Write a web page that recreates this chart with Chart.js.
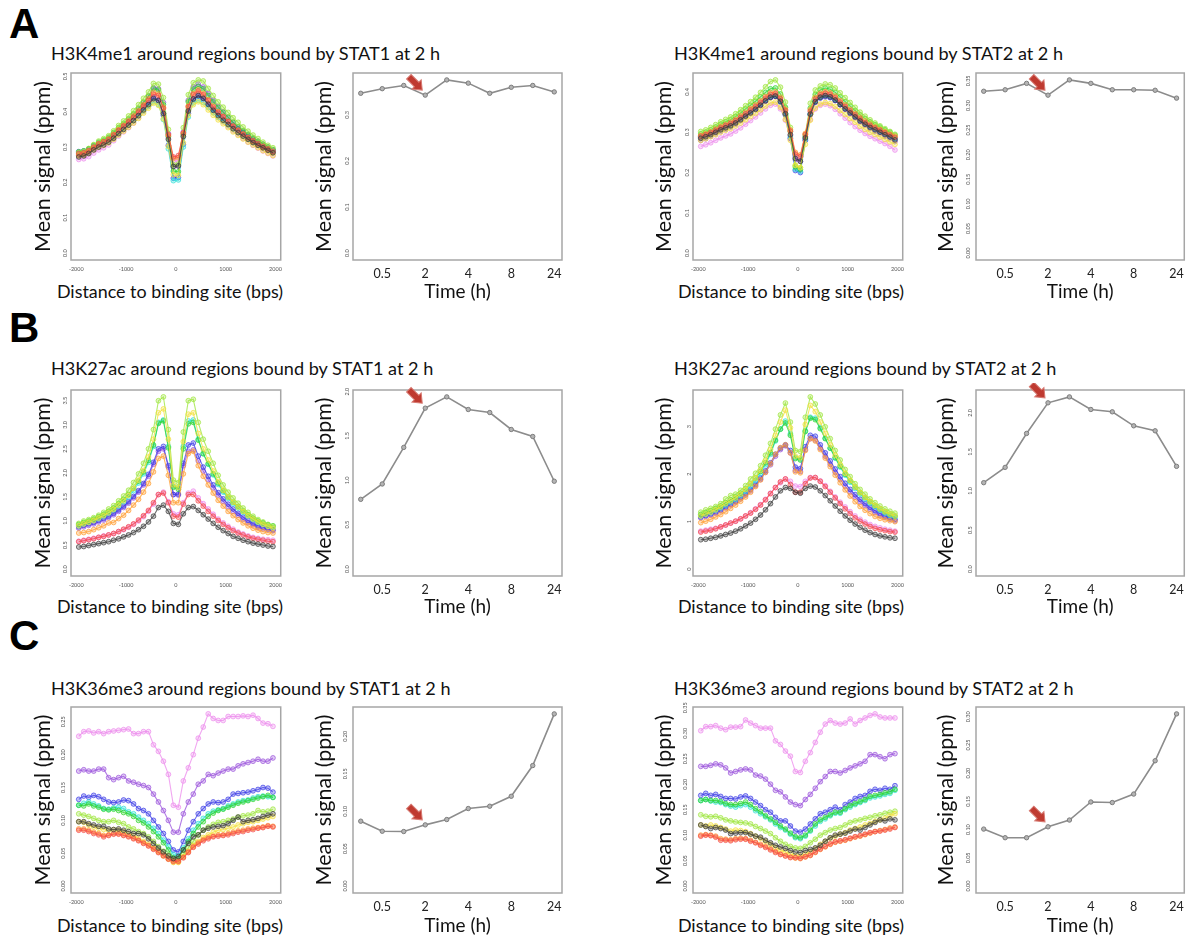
<!DOCTYPE html>
<html lang="en">
<head>
<meta charset="UTF-8">
<title>Histone marks around STAT1 / STAT2 binding sites</title>
<script src="https://cdn.jsdelivr.net/npm/chart.js@4.4.1/dist/chart.umd.min.js"></script>
<style>
  body { margin: 0; background: #fff; }
  #fig { position: relative; width: 1191px; height: 942px; overflow: hidden; font-family: Lato, "Open Sans", sans-serif; }
  .letter { position: absolute; font: bold 42px "Liberation Sans", Arial, sans-serif; line-height: 1; color: #000; }
  .title { position: absolute; font-size: 18.1px; line-height: 1; color: #111; white-space: nowrap; }
  .xtitle { position: absolute; font-size: 17.9px; line-height: 1; color: #111; white-space: nowrap; transform: translateX(-50%); }
  canvas { position: absolute; }
</style>
</head>
<body>
<div id="fig">
  <div class="letter" style="left:9px;top:3px">A</div>
  <div class="letter" style="left:9px;top:307px">B</div>
  <div class="letter" style="left:9px;top:615px">C</div>

  <div class="title" style="left:51px;top:44px">H3K4me1 around regions bound by STAT1 at 2 h</div>
  <div class="title" style="left:674px;top:44px">H3K4me1 around regions bound by STAT2 at 2 h</div>
  <div class="title" style="left:51px;top:359px">H3K27ac around regions bound by STAT1 at 2 h</div>
  <div class="title" style="left:674px;top:359px">H3K27ac around regions bound by STAT2 at 2 h</div>
  <div class="title" style="left:51px;top:679px">H3K36me3 around regions bound by STAT1 at 2 h</div>
  <div class="title" style="left:674px;top:679px">H3K36me3 around regions bound by STAT2 at 2 h</div>

  <div class="xtitle" style="left:170px;top:283px">Distance to binding site (bps)</div>
  <div class="xtitle" style="left:791px;top:283px">Distance to binding site (bps)</div>
  <div class="xtitle" style="left:170px;top:598px">Distance to binding site (bps)</div>
  <div class="xtitle" style="left:791px;top:598px">Distance to binding site (bps)</div>
  <div class="xtitle" style="left:170px;top:917px">Distance to binding site (bps)</div>
  <div class="xtitle" style="left:791px;top:917px">Distance to binding site (bps)</div>

  <canvas id="k4Stat1Prof"></canvas>
  <canvas id="k4Stat1Time"></canvas>
  <canvas id="k4Stat2Prof"></canvas>
  <canvas id="k4Stat2Time"></canvas>
  <canvas id="k27Stat1Prof"></canvas>
  <canvas id="k27Stat1Time"></canvas>
  <canvas id="k27Stat2Prof"></canvas>
  <canvas id="k27Stat2Time"></canvas>
  <canvas id="k36Stat1Prof"></canvas>
  <canvas id="k36Stat1Time"></canvas>
  <canvas id="k36Stat2Prof"></canvas>
  <canvas id="k36Stat2Time"></canvas>
</div>

<script>
// time points after treatment (h); every profile panel has one curve per time point, in this order
const timeLabels = ['0', '0.5', '1', '2', '3', '4', '6', '8', '12', '24'];
const timeTickIndex = [1, 3, 5, 7, 9];
const highlightIndex = 3; // the 2 h point marked with the red arrow

// bin centres (bp) of the profiles
const binCenters = [-1950, -1850, -1750, -1650, -1550, -1450, -1350, -1250, -1150, -1050,
  -950, -850, -750, -650, -550, -450, -350, -250, -150, -50,
  50, 150, 250, 350, 450, 550, 650, 750, 850, 950,
  1050, 1150, 1250, 1350, 1450, 1550, 1650, 1750, 1850, 1950];
const distanceTicks = [-2000, -1000, 0, 1000, 2000];

// ---- A: H3K4me1 ----
const k4Stat1Profiles = [
  [0.272,0.275,0.282,0.292,0.300,0.306,0.314,0.325,0.338,0.350,0.362,0.375,0.389,0.405,0.420,0.437,0.432,0.395,0.322,0.245, 0.247,0.330,0.402,0.436,0.446,0.438,0.421,0.404,0.389,0.376,0.364,0.352,0.341,0.331,0.322,0.313,0.305,0.298,0.291,0.284],
  [0.282,0.284,0.290,0.300,0.309,0.315,0.322,0.334,0.347,0.359,0.371,0.384,0.399,0.416,0.432,0.450,0.446,0.410,0.335,0.272, 0.276,0.340,0.414,0.448,0.458,0.448,0.431,0.413,0.398,0.386,0.372,0.359,0.348,0.337,0.327,0.318,0.310,0.302,0.295,0.288],
  [0.278,0.281,0.288,0.298,0.308,0.314,0.322,0.335,0.349,0.361,0.374,0.388,0.403,0.420,0.437,0.455,0.450,0.412,0.333,0.268, 0.270,0.338,0.416,0.452,0.462,0.452,0.434,0.416,0.400,0.387,0.373,0.359,0.347,0.336,0.326,0.316,0.307,0.299,0.292,0.284],
  [0.275,0.277,0.283,0.292,0.300,0.305,0.312,0.322,0.334,0.345,0.356,0.368,0.381,0.396,0.410,0.424,0.418,0.380,0.302,0.222, 0.220,0.312,0.390,0.420,0.428,0.420,0.405,0.390,0.377,0.366,0.355,0.343,0.333,0.323,0.314,0.306,0.298,0.290,0.283,0.276],
  [0.285,0.288,0.296,0.307,0.317,0.324,0.332,0.346,0.361,0.374,0.388,0.403,0.420,0.438,0.456,0.480,0.478,0.440,0.350,0.250, 0.252,0.355,0.448,0.482,0.490,0.487,0.466,0.446,0.428,0.413,0.398,0.383,0.370,0.357,0.345,0.334,0.324,0.314,0.305,0.298],
  [0.286,0.289,0.295,0.305,0.314,0.320,0.328,0.341,0.355,0.367,0.380,0.394,0.410,0.427,0.444,0.465,0.462,0.420,0.330,0.232, 0.230,0.335,0.428,0.464,0.472,0.465,0.446,0.428,0.412,0.398,0.384,0.370,0.358,0.347,0.336,0.326,0.317,0.308,0.300,0.293],
  [0.283,0.285,0.290,0.299,0.307,0.312,0.319,0.330,0.342,0.352,0.363,0.375,0.388,0.402,0.415,0.428,0.420,0.378,0.295,0.205, 0.207,0.300,0.385,0.425,0.432,0.426,0.412,0.397,0.384,0.373,0.362,0.351,0.341,0.331,0.322,0.313,0.305,0.298,0.291,0.284],
  [0.287,0.289,0.294,0.303,0.311,0.317,0.325,0.337,0.349,0.360,0.371,0.384,0.397,0.412,0.426,0.440,0.432,0.390,0.305,0.212, 0.214,0.308,0.395,0.436,0.444,0.437,0.423,0.408,0.395,0.384,0.373,0.362,0.352,0.342,0.333,0.324,0.316,0.308,0.300,0.292],
  [0.276,0.279,0.286,0.297,0.307,0.314,0.322,0.336,0.350,0.363,0.377,0.392,0.408,0.426,0.444,0.468,0.465,0.426,0.338,0.245, 0.246,0.342,0.432,0.470,0.478,0.470,0.451,0.432,0.415,0.400,0.385,0.370,0.357,0.345,0.334,0.323,0.313,0.304,0.296,0.288],
  [0.265,0.267,0.273,0.283,0.292,0.298,0.306,0.318,0.331,0.343,0.355,0.368,0.383,0.400,0.415,0.434,0.430,0.395,0.325,0.260, 0.262,0.330,0.400,0.432,0.440,0.432,0.416,0.399,0.384,0.371,0.358,0.346,0.335,0.324,0.314,0.305,0.297,0.289,0.282,0.275]
];
const k4Stat1Time = [0.347, 0.357, 0.364, 0.343, 0.376, 0.369, 0.347, 0.360, 0.364, 0.350];
const k4Stat1ProfTicks = [0, 0.1, 0.2, 0.3, 0.4, 0.5];
const k4Stat1TimeTicks = [0, 0.1, 0.2, 0.3];

const k4Stat2Profiles = [
  [0.285,0.289,0.294,0.300,0.306,0.311,0.316,0.323,0.331,0.340,0.348,0.357,0.367,0.378,0.387,0.390,0.377,0.346,0.294,0.235, 0.228,0.286,0.345,0.376,0.387,0.391,0.388,0.380,0.369,0.358,0.348,0.338,0.328,0.320,0.312,0.306,0.300,0.294,0.288,0.281],
  [0.290,0.294,0.299,0.305,0.311,0.317,0.322,0.329,0.337,0.346,0.355,0.364,0.374,0.385,0.394,0.396,0.383,0.354,0.303,0.246, 0.240,0.294,0.352,0.382,0.393,0.397,0.394,0.386,0.375,0.364,0.353,0.343,0.333,0.324,0.317,0.311,0.305,0.299,0.293,0.287],
  [0.292,0.296,0.301,0.308,0.314,0.319,0.325,0.332,0.341,0.350,0.359,0.368,0.378,0.389,0.398,0.400,0.387,0.357,0.306,0.250, 0.244,0.297,0.356,0.386,0.397,0.401,0.398,0.390,0.379,0.368,0.357,0.347,0.337,0.328,0.320,0.313,0.307,0.301,0.295,0.290],
  [0.280,0.284,0.289,0.294,0.300,0.305,0.309,0.316,0.323,0.331,0.339,0.347,0.356,0.365,0.373,0.375,0.362,0.332,0.280,0.218, 0.212,0.270,0.330,0.360,0.370,0.374,0.371,0.364,0.354,0.344,0.334,0.325,0.315,0.307,0.300,0.294,0.288,0.282,0.276,0.270],
  [0.302,0.306,0.312,0.319,0.326,0.332,0.338,0.346,0.356,0.366,0.376,0.387,0.399,0.413,0.426,0.430,0.412,0.375,0.312,0.218, 0.212,0.295,0.372,0.405,0.415,0.420,0.418,0.410,0.398,0.386,0.374,0.362,0.350,0.340,0.331,0.323,0.316,0.309,0.302,0.295],
  [0.296,0.300,0.306,0.313,0.320,0.326,0.331,0.339,0.348,0.358,0.367,0.377,0.388,0.399,0.408,0.410,0.395,0.362,0.302,0.214, 0.208,0.290,0.360,0.394,0.405,0.410,0.407,0.399,0.388,0.376,0.365,0.354,0.343,0.334,0.326,0.319,0.313,0.306,0.300,0.293],
  [0.290,0.294,0.299,0.305,0.311,0.316,0.321,0.328,0.336,0.345,0.353,0.362,0.372,0.382,0.390,0.392,0.377,0.345,0.288,0.208, 0.203,0.282,0.346,0.378,0.388,0.392,0.390,0.382,0.372,0.361,0.351,0.341,0.331,0.322,0.315,0.309,0.303,0.297,0.291,0.285],
  [0.287,0.291,0.296,0.302,0.308,0.313,0.318,0.325,0.333,0.342,0.350,0.359,0.369,0.379,0.387,0.389,0.375,0.343,0.285,0.205, 0.200,0.280,0.344,0.375,0.385,0.388,0.386,0.379,0.369,0.359,0.349,0.339,0.329,0.321,0.314,0.308,0.302,0.296,0.290,0.284],
  [0.280,0.284,0.290,0.296,0.302,0.307,0.313,0.320,0.329,0.338,0.347,0.356,0.366,0.377,0.386,0.390,0.377,0.346,0.292,0.232, 0.228,0.285,0.344,0.375,0.386,0.390,0.387,0.379,0.368,0.357,0.346,0.336,0.326,0.317,0.309,0.302,0.296,0.290,0.284,0.277],
  [0.265,0.269,0.274,0.280,0.286,0.291,0.296,0.303,0.311,0.320,0.329,0.338,0.348,0.358,0.367,0.370,0.358,0.330,0.283,0.236, 0.232,0.280,0.332,0.358,0.367,0.370,0.366,0.357,0.346,0.335,0.324,0.314,0.305,0.297,0.290,0.284,0.278,0.272,0.265,0.256]
];
const k4Stat2Time = [0.329, 0.332, 0.345, 0.321, 0.352, 0.345, 0.332, 0.332, 0.331, 0.315];
const k4Stat2ProfTicks = [0, 0.1, 0.2, 0.3, 0.4];
const k4Stat2TimeTicks = [0, 0.05, 0.10, 0.15, 0.20, 0.25, 0.30, 0.35];

// ---- B: H3K27ac ----
const k27Stat1Profiles = [
  [0.46,0.47,0.49,0.51,0.53,0.55,0.57,0.60,0.63,0.67,0.71,0.76,0.82,0.89,0.98,1.10,1.28,1.33,1.20,0.95, 0.93,1.15,1.28,1.30,1.22,1.13,1.04,0.95,0.87,0.80,0.74,0.68,0.64,0.60,0.57,0.54,0.52,0.50,0.48,0.47],
  [0.57,0.59,0.61,0.63,0.66,0.68,0.71,0.74,0.78,0.83,0.88,0.94,1.02,1.11,1.22,1.38,1.55,1.58,1.38,1.10, 1.08,1.35,1.55,1.55,1.42,1.31,1.20,1.10,1.01,0.93,0.86,0.80,0.75,0.71,0.67,0.64,0.62,0.60,0.58,0.57],
  [0.75,0.76,0.78,0.82,0.86,0.90,0.96,0.97,1.05,1.12,1.22,1.33,1.45,1.60,1.78,2.02,2.30,2.35,1.95,1.38, 1.38,1.98,2.40,2.45,2.15,1.93,1.75,1.58,1.43,1.31,1.20,1.11,1.03,0.96,0.90,0.85,0.81,0.78,0.76,0.75],
  [0.90,0.94,0.97,1.01,1.06,1.11,1.17,1.24,1.33,1.42,1.53,1.68,1.85,2.05,2.33,2.70,3.25,3.33,2.70,1.75, 1.70,2.65,3.22,3.25,2.82,2.50,2.27,2.04,1.82,1.64,1.50,1.39,1.29,1.20,1.11,1.04,0.98,0.93,0.89,0.85],
  [0.95,1.00,1.03,1.07,1.12,1.18,1.25,1.32,1.42,1.52,1.64,1.80,1.98,2.20,2.50,2.90,3.50,3.58,2.90,1.85, 1.80,2.85,3.50,3.53,3.05,2.70,2.45,2.20,1.95,1.75,1.60,1.48,1.37,1.27,1.18,1.10,1.03,0.98,0.93,0.89],
  [0.93,0.97,1.00,1.04,1.09,1.14,1.20,1.27,1.36,1.45,1.55,1.68,1.83,2.02,2.26,2.58,3.03,3.08,2.52,1.70, 1.66,2.50,3.02,3.05,2.68,2.40,2.19,1.98,1.79,1.63,1.50,1.39,1.30,1.21,1.13,1.06,1.00,0.96,0.92,0.90],
  [0.90,0.94,0.97,1.01,1.05,1.10,1.16,1.23,1.31,1.40,1.50,1.63,1.79,1.98,2.22,2.55,3.05,3.10,2.55,1.72, 1.70,2.55,3.08,3.10,2.70,2.40,2.18,1.96,1.76,1.60,1.47,1.36,1.27,1.18,1.10,1.03,0.97,0.93,0.89,0.86],
  [0.88,0.91,0.94,0.97,1.01,1.05,1.10,1.16,1.23,1.31,1.40,1.51,1.63,1.78,1.97,2.22,2.50,2.55,2.15,1.55, 1.56,2.20,2.58,2.62,2.35,2.12,1.93,1.75,1.59,1.46,1.35,1.25,1.16,1.08,1.01,0.95,0.90,0.87,0.84,0.82],
  [0.85,0.88,0.91,0.94,0.98,1.02,1.07,1.13,1.20,1.28,1.37,1.48,1.60,1.75,1.93,2.18,2.45,2.50,2.12,1.55, 1.54,2.15,2.45,2.48,2.25,2.04,1.86,1.69,1.54,1.41,1.30,1.20,1.12,1.04,0.97,0.92,0.87,0.84,0.82,0.80],
  [0.58,0.60,0.62,0.64,0.66,0.69,0.71,0.74,0.78,0.82,0.87,0.93,1.00,1.09,1.20,1.35,1.55,1.60,1.40,1.15, 1.13,1.38,1.58,1.62,1.48,1.36,1.25,1.14,1.04,0.96,0.89,0.83,0.77,0.73,0.69,0.66,0.64,0.62,0.61,0.60]
];
const k27Stat1Time = [0.786, 0.959, 1.371, 1.813, 1.940, 1.798, 1.764, 1.573, 1.494, 0.990];
const k27Stat1ProfTicks = [0, 0.5, 1.0, 1.5, 2.0, 2.5, 3.0, 3.5];
const k27Stat1TimeTicks = [0, 0.5, 1.0, 1.5, 2.0];

const k27Stat2Profiles = [
  [0.62,0.63,0.65,0.67,0.70,0.73,0.76,0.80,0.85,0.91,0.97,1.05,1.14,1.25,1.38,1.52,1.65,1.72,1.70,1.62, 1.60,1.70,1.75,1.73,1.65,1.55,1.44,1.33,1.22,1.12,1.03,0.95,0.88,0.82,0.77,0.73,0.70,0.68,0.66,0.65],
  [0.78,0.80,0.82,0.85,0.89,0.93,0.97,1.01,1.06,1.12,1.18,1.26,1.35,1.46,1.59,1.72,1.84,1.90,1.78,1.62, 1.62,1.80,1.92,1.93,1.85,1.74,1.62,1.50,1.38,1.27,1.17,1.08,1.01,0.95,0.90,0.86,0.83,0.81,0.79,0.78],
  [0.98,1.01,1.05,1.10,1.15,1.21,1.28,1.35,1.43,1.52,1.62,1.74,1.88,2.04,2.22,2.42,2.56,2.62,2.45,2.05, 2.03,2.50,2.75,2.70,2.52,2.34,2.16,1.98,1.82,1.67,1.54,1.42,1.32,1.24,1.17,1.11,1.07,1.04,1.02,1.00],
  [1.12,1.16,1.20,1.25,1.31,1.38,1.44,1.50,1.58,1.68,1.80,1.92,2.08,2.28,2.52,2.82,3.10,3.35,2.98,2.38, 2.35,3.05,3.45,3.32,3.10,2.86,2.62,2.40,2.20,2.02,1.87,1.73,1.61,1.51,1.42,1.34,1.27,1.21,1.16,1.12],
  [1.20,1.25,1.28,1.32,1.38,1.48,1.55,1.58,1.66,1.76,1.90,2.02,2.18,2.40,2.65,2.95,3.25,3.50,3.10,2.50, 2.48,3.20,3.63,3.48,3.25,3.00,2.75,2.50,2.30,2.10,1.95,1.80,1.68,1.58,1.48,1.40,1.33,1.27,1.22,1.18],
  [1.15,1.19,1.23,1.28,1.33,1.40,1.46,1.52,1.60,1.69,1.80,1.92,2.06,2.24,2.45,2.72,2.95,3.08,2.82,2.33, 2.30,2.90,3.18,3.15,2.96,2.75,2.55,2.35,2.17,2.00,1.86,1.73,1.61,1.51,1.42,1.34,1.27,1.21,1.16,1.12],
  [1.12,1.16,1.19,1.24,1.29,1.35,1.41,1.47,1.55,1.64,1.75,1.87,2.02,2.20,2.42,2.70,2.95,3.12,2.85,2.35, 2.32,2.92,3.20,3.18,2.98,2.76,2.55,2.34,2.15,1.98,1.83,1.70,1.58,1.48,1.39,1.31,1.24,1.18,1.13,1.10],
  [1.10,1.13,1.16,1.20,1.25,1.31,1.37,1.43,1.51,1.59,1.68,1.79,1.92,2.07,2.24,2.42,2.55,2.62,2.50,2.15, 2.12,2.58,2.82,2.80,2.62,2.45,2.28,2.11,1.95,1.81,1.68,1.57,1.47,1.38,1.30,1.23,1.17,1.12,1.08,1.05],
  [1.08,1.11,1.14,1.18,1.23,1.29,1.35,1.41,1.48,1.56,1.65,1.76,1.89,2.04,2.20,2.38,2.52,2.60,2.45,2.08, 2.06,2.52,2.75,2.72,2.55,2.38,2.21,2.04,1.89,1.75,1.63,1.52,1.42,1.34,1.26,1.19,1.13,1.09,1.05,1.02],
  [0.80,0.82,0.84,0.86,0.89,0.93,0.97,1.01,1.06,1.12,1.19,1.27,1.36,1.47,1.60,1.72,1.82,1.90,1.85,1.75, 1.74,1.85,1.93,1.93,1.86,1.76,1.64,1.52,1.41,1.31,1.21,1.12,1.05,0.99,0.94,0.90,0.87,0.84,0.82,0.80]
];
const k27Stat2Time = [1.106, 1.302, 1.736, 2.128, 2.204, 2.043, 2.013, 1.834, 1.770, 1.315];
const k27Stat2ProfTicks = [0, 1, 2, 3];
const k27Stat2TimeTicks = [0, 0.5, 1.0, 1.5, 2.0];

// ---- C: H3K36me3 ----
const k36Stat1Profiles = [
  [0.098,0.098,0.095,0.093,0.091,0.091,0.087,0.086,0.087,0.085,0.083,0.080,0.080,0.078,0.072,0.065,0.058,0.052,0.046,0.042, 0.045,0.055,0.065,0.075,0.078,0.085,0.088,0.090,0.091,0.092,0.095,0.100,0.105,0.098,0.100,0.101,0.103,0.106,0.108,0.110],
  [0.085,0.085,0.083,0.080,0.078,0.075,0.077,0.079,0.079,0.077,0.075,0.072,0.069,0.065,0.061,0.056,0.051,0.046,0.041,0.038, 0.038,0.043,0.051,0.059,0.064,0.069,0.072,0.075,0.076,0.077,0.078,0.080,0.082,0.083,0.085,0.086,0.088,0.089,0.091,0.090],
  [0.087,0.087,0.085,0.082,0.080,0.077,0.078,0.080,0.080,0.078,0.076,0.073,0.070,0.066,0.062,0.057,0.052,0.047,0.042,0.037, 0.037,0.044,0.052,0.060,0.066,0.071,0.074,0.076,0.078,0.078,0.080,0.082,0.084,0.085,0.087,0.088,0.089,0.090,0.092,0.091],
  [0.098,0.097,0.093,0.090,0.088,0.086,0.085,0.086,0.085,0.083,0.080,0.077,0.073,0.068,0.064,0.058,0.052,0.046,0.041,0.036, 0.036,0.045,0.053,0.062,0.068,0.074,0.078,0.082,0.085,0.086,0.088,0.090,0.093,0.095,0.097,0.098,0.100,0.102,0.104,0.106],
  [0.110,0.108,0.106,0.103,0.100,0.098,0.098,0.100,0.097,0.095,0.090,0.087,0.083,0.080,0.075,0.068,0.060,0.053,0.047,0.040, 0.039,0.048,0.058,0.068,0.078,0.085,0.090,0.094,0.097,0.098,0.100,0.102,0.105,0.107,0.108,0.110,0.115,0.113,0.114,0.117],
  [0.123,0.122,0.125,0.122,0.120,0.117,0.116,0.117,0.115,0.112,0.110,0.106,0.100,0.096,0.090,0.083,0.075,0.066,0.055,0.043, 0.042,0.055,0.068,0.080,0.090,0.098,0.106,0.111,0.115,0.117,0.120,0.123,0.126,0.128,0.130,0.132,0.134,0.136,0.138,0.135],
  [0.123,0.126,0.128,0.125,0.122,0.118,0.117,0.119,0.120,0.118,0.113,0.110,0.105,0.100,0.095,0.088,0.080,0.070,0.060,0.048, 0.046,0.058,0.072,0.085,0.095,0.103,0.110,0.114,0.116,0.118,0.122,0.125,0.128,0.130,0.131,0.134,0.136,0.137,0.136,0.135],
  [0.132,0.137,0.135,0.138,0.136,0.132,0.128,0.127,0.128,0.131,0.130,0.125,0.118,0.115,0.110,0.100,0.090,0.080,0.068,0.055, 0.052,0.068,0.085,0.098,0.110,0.118,0.125,0.128,0.127,0.128,0.132,0.140,0.141,0.142,0.143,0.145,0.147,0.150,0.149,0.143],
  [0.175,0.177,0.175,0.175,0.178,0.178,0.165,0.162,0.165,0.167,0.160,0.158,0.155,0.153,0.150,0.140,0.128,0.115,0.100,0.082, 0.082,0.110,0.128,0.140,0.155,0.160,0.170,0.168,0.172,0.175,0.178,0.178,0.183,0.186,0.188,0.190,0.193,0.190,0.190,0.195],
  [0.228,0.235,0.236,0.233,0.235,0.232,0.235,0.236,0.237,0.238,0.239,0.232,0.232,0.235,0.235,0.215,0.205,0.190,0.170,0.123, 0.120,0.160,0.180,0.200,0.225,0.242,0.262,0.255,0.252,0.252,0.258,0.258,0.258,0.259,0.258,0.260,0.255,0.248,0.247,0.243]
];
const k36Stat1Time = [0.0867, 0.0733, 0.0729, 0.0818, 0.0889, 0.1036, 0.1067, 0.1200, 0.1610, 0.2300];
const k36Stat1ProfTicks = [0, 0.05, 0.10, 0.15, 0.20, 0.25];
const k36Stat1TimeTicks = [0, 0.05, 0.10, 0.15, 0.20];

const k36Stat2Profiles = [
  [0.120,0.117,0.113,0.115,0.113,0.110,0.103,0.104,0.105,0.105,0.102,0.098,0.096,0.090,0.085,0.080,0.077,0.074,0.070,0.067, 0.066,0.070,0.072,0.075,0.080,0.088,0.095,0.100,0.102,0.104,0.108,0.112,0.110,0.115,0.120,0.125,0.130,0.128,0.132,0.130],
  [0.098,0.100,0.099,0.096,0.090,0.090,0.089,0.091,0.092,0.092,0.088,0.085,0.080,0.076,0.071,0.066,0.062,0.059,0.056,0.056, 0.055,0.058,0.061,0.067,0.073,0.078,0.083,0.087,0.089,0.091,0.094,0.097,0.099,0.102,0.105,0.107,0.108,0.110,0.112,0.115],
  [0.100,0.101,0.100,0.098,0.093,0.092,0.091,0.093,0.094,0.093,0.090,0.086,0.082,0.078,0.073,0.068,0.063,0.060,0.057,0.055, 0.054,0.057,0.060,0.066,0.072,0.077,0.082,0.086,0.088,0.090,0.093,0.096,0.098,0.101,0.104,0.107,0.109,0.111,0.114,0.116],
  [0.120,0.118,0.120,0.118,0.115,0.112,0.108,0.110,0.109,0.107,0.103,0.098,0.094,0.088,0.082,0.076,0.071,0.067,0.063,0.060, 0.059,0.063,0.068,0.074,0.082,0.088,0.094,0.098,0.102,0.105,0.110,0.113,0.116,0.120,0.123,0.127,0.130,0.133,0.138,0.142],
  [0.140,0.137,0.136,0.137,0.134,0.130,0.128,0.126,0.125,0.124,0.122,0.117,0.113,0.108,0.103,0.095,0.088,0.082,0.078,0.075, 0.074,0.078,0.085,0.092,0.100,0.105,0.110,0.113,0.115,0.120,0.125,0.128,0.130,0.133,0.135,0.138,0.140,0.143,0.145,0.147],
  [0.168,0.170,0.168,0.168,0.166,0.162,0.160,0.160,0.162,0.165,0.160,0.152,0.146,0.138,0.132,0.125,0.118,0.112,0.104,0.097, 0.095,0.100,0.110,0.122,0.130,0.135,0.140,0.145,0.145,0.152,0.158,0.162,0.166,0.170,0.176,0.178,0.180,0.183,0.185,0.190],
  [0.168,0.170,0.167,0.165,0.164,0.160,0.157,0.155,0.158,0.160,0.155,0.148,0.142,0.136,0.130,0.122,0.115,0.110,0.102,0.095, 0.093,0.098,0.108,0.118,0.127,0.132,0.138,0.143,0.143,0.150,0.155,0.160,0.164,0.168,0.173,0.175,0.177,0.180,0.182,0.188],
  [0.178,0.182,0.178,0.180,0.176,0.172,0.172,0.171,0.175,0.177,0.172,0.165,0.158,0.150,0.145,0.135,0.128,0.128,0.118,0.108, 0.106,0.112,0.122,0.132,0.142,0.145,0.150,0.155,0.150,0.160,0.165,0.172,0.176,0.178,0.186,0.190,0.188,0.192,0.190,0.197],
  [0.235,0.235,0.237,0.240,0.238,0.232,0.222,0.225,0.228,0.230,0.228,0.218,0.216,0.210,0.200,0.188,0.185,0.175,0.165,0.160, 0.158,0.170,0.180,0.192,0.205,0.215,0.225,0.225,0.222,0.227,0.232,0.236,0.240,0.245,0.258,0.258,0.254,0.250,0.258,0.260],
  [0.305,0.313,0.313,0.315,0.310,0.307,0.312,0.312,0.313,0.326,0.320,0.315,0.310,0.310,0.310,0.285,0.278,0.265,0.255,0.225, 0.223,0.245,0.262,0.282,0.302,0.318,0.325,0.320,0.318,0.320,0.328,0.318,0.325,0.330,0.335,0.338,0.332,0.330,0.330,0.330]
];
const k36Stat2Time = [0.101, 0.0857, 0.0857, 0.105, 0.117, 0.149, 0.148, 0.163, 0.222, 0.305];
const k36Stat2ProfTicks = [0, 0.05, 0.10, 0.15, 0.20, 0.25, 0.30, 0.35];
const k36Stat2TimeTicks = [0, 0.05, 0.10, 0.15, 0.20, 0.25, 0.30];

// one colour per time point (0 h black ... 24 h violet)
const timeColors = ['#3a3a3a', '#f44a4a', '#ff9d30', '#f2e03a', '#9ce63a', '#2ed42e', '#30e0d8', '#3a3ae6', '#9a52dc', '#ec8aec'];

[k4Stat1Profiles, k4Stat2Profiles, k27Stat1Profiles, k27Stat2Profiles, k36Stat1Profiles, k36Stat2Profiles]
  .forEach((set, p) => set.forEach((row, i) => {
    if (row.length !== binCenters.length) throw new Error('profile ' + p + ' row ' + i + ' has ' + row.length);
  }));

Chart.defaults.font.family = 'Lato, "Open Sans", sans-serif';
Chart.defaults.color = '#222';

// panel geometry in the figure
const cols = [
  { left: 28, boxLeft: 71, boxRight: 281, titleX: 43, right: 288 },
  { left: 305, boxLeft: 353, boxRight: 562, titleX: 324, right: 569 },
  { left: 648, boxLeft: 693, boxRight: 903, titleX: 664, right: 910 },
  { left: 930, boxLeft: 976, boxRight: 1185, titleX: 946, right: 1190 }
];
const rows = [
  { top: 66, boxTop: 73, boxBottom: 260, bottom: 306 },
  { top: 383, boxTop: 390, boxBottom: 576, bottom: 621 },
  { top: 700, boxTop: 707, boxBottom: 893, bottom: 940 }
];

function rgba(hex, a) {
  const n = parseInt(hex.slice(1), 16);
  return 'rgba(' + (n >> 16) + ',' + ((n >> 8) & 255) + ',' + (n & 255) + ',' + a + ')';
}

const framePlugin = {
  id: 'frame',
  afterDatasetsDraw(chart) {
    const { ctx, chartArea: a } = chart;
    ctx.save();
    ctx.strokeStyle = '#a6a6a6';
    ctx.lineWidth = 1.5;
    ctx.strokeRect(a.left, a.top, a.right - a.left, a.bottom - a.top);
    ctx.restore();
  }
};

// red arrow pointing at the 2 h value
const arrowPlugin = {
  id: 'arrow',
  afterDatasetsDraw(chart, args, opts) {
    if (opts.index == null) return;
    const pt = chart.data.datasets[0].data[opts.index];
    const ctx = chart.ctx;
    ctx.save();
    ctx.translate(chart.scales.x.getPixelForValue(pt.x) - 3, chart.scales.y.getPixelForValue(pt.y) - 5);
    ctx.rotate(Math.PI / 4);
    ctx.beginPath();
    ctx.moveTo(0, 0);
    ctx.lineTo(-8, -6.5);
    ctx.lineTo(-8, -3.2);
    ctx.lineTo(-19, -3.2);
    ctx.lineTo(-19, 3.2);
    ctx.lineTo(-8, 3.2);
    ctx.lineTo(-8, 6.5);
    ctx.closePath();
    ctx.fillStyle = '#bf3a30';
    ctx.fill();
    ctx.strokeStyle = '#d77a72';
    ctx.lineWidth = 1;
    ctx.stroke();
    ctx.restore();
  }
};

function drawPanel(spec) {
  const c = cols[spec.col], r = rows[spec.row];
  const canvas = document.getElementById(spec.id);
  const w = c.right - c.left, h = r.bottom - r.top;
  canvas.width = w; canvas.height = h;
  canvas.style.left = c.left + 'px';
  canvas.style.top = r.top + 'px';

  const allY = spec.datasets.flatMap(d => d.data.map(p => p.y));
  const yTop = Math.max(...allY);
  const xTitleSize = 19;
  const yTitleSize = 21.5;

  new Chart(canvas, {
    type: 'line',
    data: { datasets: spec.datasets },
    options: {
      responsive: false,
      animation: false,
      devicePixelRatio: 1,
      layout: { padding: { top: r.boxTop - r.top, right: c.right - c.boxRight, left: 0, bottom: 0 } },
      plugins: { legend: { display: false }, tooltip: { enabled: false }, arrow: { index: spec.arrow } },
      scales: {
        x: {
          type: 'linear',
          min: spec.xMin, max: spec.xMax,
          grid: { display: false, drawTicks: false },
          border: { display: false },
          afterBuildTicks: s => { s.ticks = spec.xTicks.map(v => ({ value: v })); },
          afterFit: s => { s.height = r.bottom - r.boxBottom; },
          ticks: {
            autoSkip: false, minRotation: 0, maxRotation: 0,
            padding: 6,
            font: { size: spec.time ? 12.5 : 5.5 },
            color: spec.time ? '#222' : '#555',
            callback: spec.xLabel
          },
          // the wide distance title is written as page text instead (it runs past the plot box)
          title: {
            display: !!spec.xTitle, text: spec.xTitle || '', color: '#111',
            font: { size: xTitleSize },
            padding: { top: 0, bottom: 14 - xTitleSize * 0.6 }
          }
        },
        y: {
          min: -0.04 * yTop, max: 1.04 * yTop,
          grid: { display: false, drawTicks: false },
          border: { display: false },
          afterBuildTicks: s => { s.ticks = spec.yTicks.map(v => ({ value: v })); },
          afterFit: s => { s.width = c.boxLeft - c.left; },
          ticks: {
            minRotation: 90, maxRotation: 90, crossAlign: 'center',
            padding: 2,
            font: { size: 5.5 },
            color: '#555',
            callback: v => v.toFixed(spec.yDigits)
          },
          title: {
            display: true, text: 'Mean signal (ppm)', color: '#111',
            font: { size: yTitleSize },
            padding: { top: c.titleX - c.left - yTitleSize * 0.6, bottom: 0 }
          }
        }
      }
    },
    plugins: [framePlugin, arrowPlugin]
  });
}

function profilePanel(id, col, row, profiles, yTicks, yDigits) {
  drawPanel({
    id, col, row, yTicks, yDigits,
    xMin: -2106, xMax: 2106,
    xTicks: distanceTicks,
    xLabel: v => String(v),
    datasets: profiles.map((vals, i) => ({
      data: binCenters.map((x, j) => ({ x, y: vals[j] })),
      borderColor: rgba(timeColors[i], 0.75),
      borderWidth: 1.1,
      pointRadius: 2.4,
      pointBorderWidth: 1,
      pointBackgroundColor: rgba(timeColors[i], 0.3),
      pointBorderColor: rgba(timeColors[i], 0.7),
      tension: 0
    }))
  });
}

function timePanel(id, col, row, values, yTicks, yDigits) {
  drawPanel({
    id, col, row, yTicks, yDigits, time: true,
    xMin: -0.36, xMax: values.length - 1 + 0.36,
    xTicks: timeTickIndex,
    xLabel: v => timeLabels[v],
    xTitle: 'Time (h)',
    arrow: highlightIndex,
    datasets: [{
      data: values.map((y, x) => ({ x, y })),
      borderColor: '#8c8c8c',
      borderWidth: 1.6,
      pointRadius: 2.2,
      pointBorderWidth: 1,
      pointBackgroundColor: '#b4b4b4',
      pointBorderColor: '#7c7c7c',
      tension: 0
    }]
  });
}

profilePanel('k4Stat1Prof', 0, 0, k4Stat1Profiles, k4Stat1ProfTicks, 1);
timePanel('k4Stat1Time', 1, 0, k4Stat1Time, k4Stat1TimeTicks, 1);
profilePanel('k4Stat2Prof', 2, 0, k4Stat2Profiles, k4Stat2ProfTicks, 1);
timePanel('k4Stat2Time', 3, 0, k4Stat2Time, k4Stat2TimeTicks, 2);

profilePanel('k27Stat1Prof', 0, 1, k27Stat1Profiles, k27Stat1ProfTicks, 1);
timePanel('k27Stat1Time', 1, 1, k27Stat1Time, k27Stat1TimeTicks, 1);
profilePanel('k27Stat2Prof', 2, 1, k27Stat2Profiles, k27Stat2ProfTicks, 0);
timePanel('k27Stat2Time', 3, 1, k27Stat2Time, k27Stat2TimeTicks, 1);

profilePanel('k36Stat1Prof', 0, 2, k36Stat1Profiles, k36Stat1ProfTicks, 2);
timePanel('k36Stat1Time', 1, 2, k36Stat1Time, k36Stat1TimeTicks, 2);
profilePanel('k36Stat2Prof', 2, 2, k36Stat2Profiles, k36Stat2ProfTicks, 2);
timePanel('k36Stat2Time', 3, 2, k36Stat2Time, k36Stat2TimeTicks, 2);
</script>
</body>
</html>
